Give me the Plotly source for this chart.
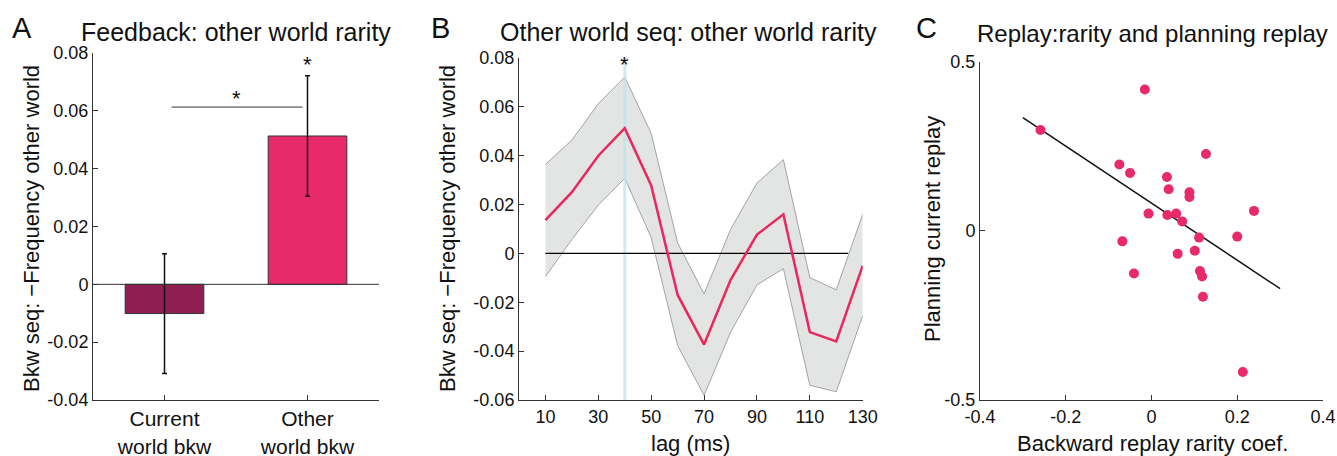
import plotly.graph_objects as go

W, H = 1337, 456
FONT = "Liberation Sans, Arial, sans-serif"
AX = "#333333"

# ---------- Panel A data ----------
a_categories = ["Current<br>world bkw", "Other<br>world bkw"]
a_values = [-0.0101, 0.0513]
a_errors = [0.0207, 0.0208]
a_colors = ["#8f1f53", "#e8296a"]
a_yticks = [-0.04, -0.02, 0, 0.02, 0.04, 0.06, 0.08]
a_yticklabels = ["-0.04", "-0.02", "0", "0.02", "0.04", "0.06", "0.08"]

# ---------- Panel B data ----------
b_lag = [10, 20, 30, 40, 50, 60, 70, 80, 90, 100, 110, 120, 130]
b_mean = [0.0136, 0.0251, 0.0400, 0.0513, 0.0278, -0.0170, -0.0373, -0.0109,
          0.0077, 0.0160, -0.0322, -0.0360, -0.0050]
b_upper = [0.0364, 0.0464, 0.0613, 0.0722, 0.0491, 0.0043, -0.0166, 0.0098,
           0.0288, 0.0384, -0.0099, -0.0149, 0.0160]
b_lower = [-0.0095, 0.0057, 0.0198, 0.0308, 0.0065, -0.0377, -0.0581, -0.0323,
           -0.0129, -0.0062, -0.0540, -0.0566, -0.0255]
b_xticks = [10, 30, 50, 70, 90, 110, 130]
b_yticks = [-0.06, -0.04, -0.02, 0, 0.02, 0.04, 0.06, 0.08]
b_yticklabels = ["-0.06", "-0.04", "-0.02", "0", "0.02", "0.04", "0.06", "0.08"]
b_sig_lag = 40

# ---------- Panel C data ----------
c_x = [-0.259, -0.0155, 0.127, -0.075, -0.050, 0.036, 0.040, 0.0885, 0.0885,
       -0.007, 0.037, 0.0575, 0.0715, 0.239, 0.111, 0.200, -0.068, 0.101,
       0.061, -0.041, 0.113, 0.118, 0.120, 0.213]
c_y = [0.298, 0.418, 0.227, 0.196, 0.171, 0.159, 0.123, 0.114, 0.100,
       0.051, 0.047, 0.051, 0.028, 0.059, -0.020, -0.017, -0.031, -0.059,
       -0.068, -0.126, -0.119, -0.135, -0.195, -0.417]
c_fit_x = [-0.3, 0.3]
c_fit_y = [0.335, -0.171]
c_xticks = [-0.4, -0.2, 0, 0.2, 0.4]
c_xticklabels = ["-0.4", "-0.2", "0", "0.2", "0.4"]
c_yticks = [-0.5, 0, 0.5]
c_yticklabels = ["-0.5", "0", "0.5"]


def px_x(p):
    return p / W


def px_y(p):
    return 1 - p / H


fig = go.Figure()

# Panel A
fig.add_trace(go.Bar(
    x=[0, 1], y=a_values, width=0.55,
    marker=dict(color=a_colors, line=dict(color=AX, width=1)),
    error_y=dict(type="data", array=a_errors, color="#111111", thickness=1.5, width=2.5),
    xaxis="x", yaxis="y", showlegend=False,
))
fig.add_trace(go.Scatter(
    x=[-0.5, 1.5], y=[0, 0], mode="lines", line=dict(color=AX, width=1),
    xaxis="x", yaxis="y", showlegend=False, hoverinfo="skip",
))

# Panel B
fig.add_trace(go.Scatter(
    x=b_lag, y=b_lower, mode="lines", line=dict(color="#a3a3a3", width=1),
    xaxis="x2", yaxis="y2", showlegend=False,
))
fig.add_trace(go.Scatter(
    x=b_lag, y=b_upper, mode="lines", line=dict(color="#a3a3a3", width=1),
    fill="tonexty", fillcolor="#e3e4e4",
    xaxis="x2", yaxis="y2", showlegend=False,
))
fig.add_trace(go.Scatter(
    x=[b_sig_lag, b_sig_lag], y=[-0.06, 0.08], mode="lines",
    line=dict(color="rgba(190,228,240,0.75)", width=3),
    xaxis="x2", yaxis="y2", showlegend=False, hoverinfo="skip",
))
fig.add_trace(go.Scatter(
    x=[10, 124.5], y=[0, 0], mode="lines", line=dict(color="#000000", width=1.2),
    xaxis="x2", yaxis="y2", showlegend=False, hoverinfo="skip",
))
fig.add_trace(go.Scatter(
    x=b_lag, y=b_mean, mode="lines", line=dict(color="#e8285f", width=2.5),
    xaxis="x2", yaxis="y2", showlegend=False,
))

# Panel C
fig.add_trace(go.Scatter(
    x=c_fit_x, y=c_fit_y, mode="lines", line=dict(color="#111111", width=1.5),
    xaxis="x3", yaxis="y3", showlegend=False,
))
fig.add_trace(go.Scatter(
    x=c_x, y=c_y, mode="markers", marker=dict(color="#e8296a", size=10),
    xaxis="x3", yaxis="y3", showlegend=False,
))

tick_font = dict(family=FONT, size=18, color="#111111")
common_axis = dict(showline=True, linecolor=AX, linewidth=1, ticks="inside",
                   ticklen=5, tickcolor=AX, showgrid=False, zeroline=False,
                   tickfont=tick_font, mirror=False, automargin=False)

fig.update_layout(
    width=W, height=H,
    margin=dict(l=0, r=0, t=0, b=0, autoexpand=False),
    paper_bgcolor="white", plot_bgcolor="white",
    font=dict(family=FONT, color="#111111"),
    xaxis=dict(domain=[px_x(93), px_x(379)], range=[-0.5, 1.5], anchor="y",
               tickvals=[0, 1], ticktext=a_categories,
               **{**common_axis, "tickfont": dict(family=FONT, size=21, color="#111111")}),
    yaxis=dict(domain=[px_y(400), px_y(53)], range=[-0.04, 0.08], anchor="x",
               tickvals=a_yticks, ticktext=a_yticklabels, **common_axis),
    xaxis2=dict(domain=[px_x(519), px_x(862.7)], range=[0, 130], anchor="y2",
                tickvals=b_xticks, **common_axis),
    yaxis2=dict(domain=[px_y(400), px_y(58)], range=[-0.06, 0.08], anchor="x2",
                tickvals=b_yticks, ticktext=b_yticklabels, **common_axis),
    xaxis3=dict(domain=[px_x(980), px_x(1323)], range=[-0.4, 0.4], anchor="y3",
                tickvals=c_xticks, ticktext=c_xticklabels, **common_axis),
    yaxis3=dict(domain=[px_y(400), px_y(61.7)], range=[-0.5, 0.5], anchor="x3",
                tickvals=c_yticks, ticktext=c_yticklabels, **common_axis),
)

ann = []


def paper_text(text, x, y, size, **kw):
    ann.append(dict(text=text, x=px_x(x), y=px_y(y), xref="paper", yref="paper",
                    showarrow=False, font=dict(family=FONT, size=size, color="#111111"),
                    xanchor="center", yanchor="middle", **kw))


# panel letters
paper_text("A", 22, 28, 29)
paper_text("B", 440, 28, 29)
paper_text("C", 926, 28, 29)
# titles
paper_text("Feedback: other world rarity", 236, 32, 25)
paper_text("Other world seq: other world rarity", 688, 32, 25)
paper_text("Replay:rarity and planning replay", 1152, 33, 24)
# axis titles
paper_text("Bkw seq: \u2212Frequency other world", 32, 229, 22, textangle=-90)
paper_text("Bkw seq: \u2212Frequency other world", 448, 229, 22, textangle=-90)
paper_text("Planning current replay", 933, 229, 22, textangle=-90)
paper_text("lag (ms)", 690, 443, 22)
paper_text("Backward replay rarity coef.", 1152, 443, 22)

# significance markers
ann.append(dict(text="*", x=0.5, y=0.0613, xref="x", yref="y", showarrow=False,
                yanchor="bottom", yshift=-6, font=dict(family=FONT, size=22, color="#111111")))
ann.append(dict(text="*", x=1, y=a_values[1] + a_errors[1], xref="x", yref="y",
                showarrow=False, yanchor="bottom", yshift=-3,
                font=dict(family=FONT, size=22, color="#111111")))
ann.append(dict(text="*", x=b_sig_lag, y=0.08, xref="x2", yref="y2", showarrow=False,
                yanchor="middle", yshift=-6, font=dict(family=FONT, size=22, color="#111111")))
fig.update_layout(annotations=ann)

fig.add_shape(type="line", xref="x", yref="y", x0=0.05, x1=0.965, y0=0.0613, y1=0.0613,
              line=dict(color=AX, width=1))

fig.write_html("out.html")
